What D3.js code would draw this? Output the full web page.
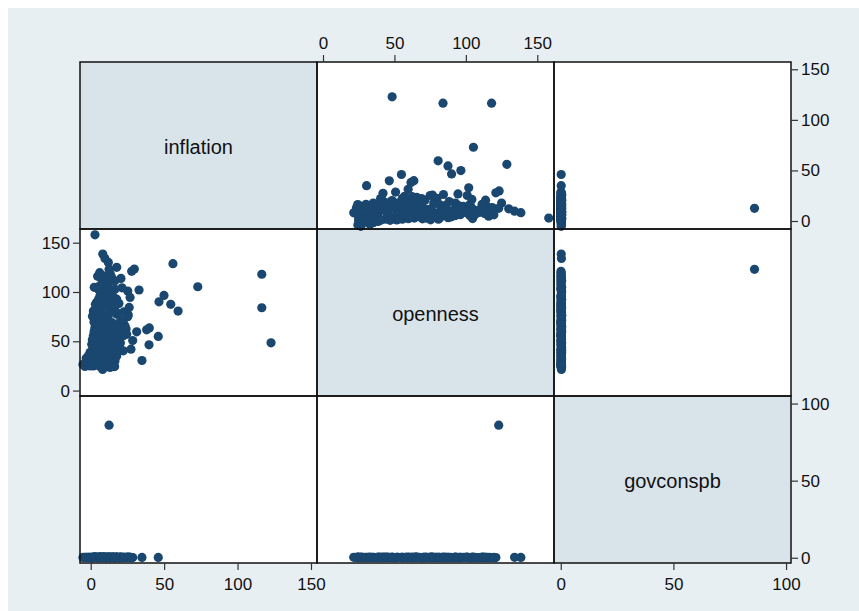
<!DOCTYPE html>
<html lang="en">
<head>
    <meta charset="UTF-8">
    <title>Scatter matrix: inflation, openness, govconspb</title>
    <script src="https://d3js.org/d3.v7.min.js"></script>
    <style>
        body { margin: 0; background: #ffffff; }
        svg { display: block; font-family: Arial, "Liberation Sans", Helvetica, sans-serif; }
        .tick text { font-size: 17px; fill: #111; }
        .tick line { stroke: #333; stroke-width: 1.2; }
        .diag-label { font-size: 20px; fill: #111; }
    </style>
</head>
<body>
    <div id="chart"></div>

    <script>
        // variable names (diagonal labels)
        var varNames = ["inflation", "openness", "govconspb"];

        // tick labels per variable
        var inflationTicks = [0, 50, 100, 150];
        var opennessTicks = [0, 50, 100, 150];
        var govconspbTicks = [0, 50, 100];

        var inflation = [
            2.9, 8.2, 9.7, 12, 17.7, 12.5, 27.9, 29.7, 20.6, 56,
            72.9, 25.2, 32.9, 26.8, 49.9, 46.5, 54.5, 59.5, 25.6, 25.2,
            31.3, 38.1, 39.9, 46, 39.7, 28.6, 27.4, 34.9, 19.9, 17.2,
            23.4, 24.5, -3.9, 0.7, 1.8, 6.3, 13.1, 15.4, 16.5, -0.5,
            1.8, 0.7, 1.8, 2.9, 2.2, 1.8, 2.9, 5.2, 6.3, 7.5,
            8.6, 14.3, 15.4, 16.5, 15.4, 9.7, 13.1, 6.3, 17.7, 22.2,
            19.9, 9.7, 6.3, 10.9, 15.4, 19.9, 8.6, 4.1, 13.1, 10.9,
            6.3, 15.4, 8.6, 13.1, 10.9, 4.1, -1.6, 5.2, 7.5, 12,
            14.3, 5.2, 12, 9.7, 4, 17.7, 19.9, 15.4, 8.6, 4.1,
            13.1, 17.7, 22.2, 4.1, 8.6, 15.4, 17.7, 13.1, 10.9, 8.6,
            16.5, 0.7, -0.5, 7.5, 17.7, 18.8, 22.2, 12, 3.4, 5.6,
            7.2, 9.1, 11.3, 13.5, 14.6, 2.4, 4.7, 6.1, 8.3, 10.2,
            12.4, 14.1, 16.2, 18.3, 20.4, 22.5, 3.2, 5.3, 7.4, 9.3,
            11.1, 13.4, 15.2, 17.4, 19.2, 1.1, 2.3, 4.2, 6.4, 8.2,
            10.3, 12.2, 14.4, 16.3, 18.1, 20.2, 0.2, -2.1, -3.1, 1.2,
            3.3, 5.1, 7.3, 9.2, 11.2, 13.3, 24.1, 26.2, 21.3, 6.2,
            8.1, 16.3, -5.3, 116.5, 116.5, 122.8
        ];
        var openness = [
            158, 138.5, 134.1, 130, 125, 123, 121, 123.3, 113.8, 128.7,
            105.3, 101, 102, 94.5, 96.5, 90, 87.5, 80.6, 76.6, 75,
            59.6, 61.6, 63.6, 54.9, 46.4, 50.8, 42, 30.5, 42, 43.6,
            65.6, 57.1, 24.4, 29.1, 25, 24.4, 23.4, 25, 30.1, 38.6,
            43.6, 47, 55.5, 63.9, 69.6, 80.8, 72.4, 102.9, 96.1, 113.1,
            109.7, 114.8, 111.5, 102.9, 94.5, 87.7, 82.6, 80.9, 79.2, 69,
            65.6, 75.8, 69, 62.3, 59, 55.5, 52.1, 48.8, 48.8, 42,
            38.6, 38.6, 33.5, 31.8, 26.7, 31.8, 35.2, 59, 79.2, 75.8,
            69, 86, 104.6, 111.4, 89.4, 77.5, 62.3, 67.4, 65.6, 62.3,
            55.5, 52.1, 55.5, 77.5, 86, 86, 92.7, 92.7, 96.1, 116.5,
            111.4, 40.3, 25, 26.7, 35.2, 42, 40.3, 38.6, 35, 45.5,
            55.8, 64.7, 73.2, 84.8, 96.3, 104.7, 115.9, 119.6, 99.8, 90.7,
            70.1, 61.2, 50.5, 46.2, 71.3, 79.8, 87.6, 92.4, 71.5, 57.7,
            33.2, 27.9, 44.8, 65.1, 88.3, 51.6, 59.8, 67.7, 84.1, 45.2,
            107.9, 112.6, 98.2, 81.6, 57.9, 48.3, 31.4, 27.6, 32.8, 75.3,
            81.9, 26.2, 36.4, 27.3, 100.4, 118.5, 62.4, 84.3, 104.2, 106.3,
            21.5, 24.3, 26.5, 118, 84, 48.4
        ];
        var govconspb = [
            null, 0.2, 0.3, null, null, 86, 0.1, null, 0.2, null,
            null, 0.4, null, 0.1, null, null, null, null, 0.3, 0.2,
            null, null, null, 0.2, null, 0.1, 0.3, 0.2, 0.1, 0.4,
            0.2, 0.1, 0.3, 0.2, 0.1, 0.4, 0.2, 0.3, 0.1, 0.2,
            0.3, 0.1, 0.2, 0.4, 0.1, 0.2, 0.3, 0.1, 0.2, 0.3,
            0.1, 0.2, 0.4, 0.1, 0.2, 0.3, 0.1, 0.2, 0.3, 0.1,
            0.2, 0.4, 0.1, 0.2, 0.3, 0.1, 0.2, 0.3, 0.1, 0.2,
            0.4, 0.1, 0.2, 0.3, 0.1, 0.2, 0.3, 0.1, 0.2, 0.4,
            0.1, 0.2, 0.3, 0.1, 0.2, 0.3, 0.1, 0.2, 0.4, 0.1,
            0.2, 0.3, 0.1, 0.2, 0.3, 0.1, 0.2, 0.4, 0.1, 0.2,
            0.3, 0.1, 0.2, 0.3, 0.1, 0.2, 0.4, 0.1, 0.2, 0.3,
            0.1, 0.2, 0.3, 0.1, 0.2, 0.4, 0.1, 0.2, 0.3, 0.1,
            0.2, 0.3, 0.1, 0.2, 0.4, 0.1, 0.2, 0.3, 0.1, 0.2,
            0.3, 0.1, 0.2, 0.3, 0.1, 0.2, 0.4, 0.1, 0.2, 0.3,
            0.1, 0.2, 0.3, 0.1, 0.2, 0.4, 0.1, 0.2, 0.3, 0.1,
            0.2, 0.3, 0.1, 0.2, 0.3, 0.1, 0.2, 0.4, 0.1, 0.2,
            0.3, 0.1, 0.2, null, null, null
        ];

        var columns = [inflation, openness, govconspb];
        var tickSets = [inflationTicks, opennessTicks, govconspbTicks];

        // axis ranges used by the plot (as horizontal / as vertical variable)
        var xDomains = [[-7.3, 154.1], [-4.2, 161.7], [-3.0, 102.2]];
        var yDomains = [[-7.9, 157.2], [-5.5, 163.9], [-3.4, 104.9]];

        var W = 859, H = 611;
        var gridLeft = 80, gridTop = 62, cellW = 237, cellH = 167;
        var n = varNames.length;

        var svg = d3.select("#chart").append("svg")
            .attr("width", W)
            .attr("height", H);

        // outer (graph region) background
        svg.append("rect")
            .attr("x", 8).attr("y", 8)
            .attr("width", W - 8).attr("height", H - 8)
            .attr("fill", "#e8eff2");

        var xScales = d3.range(n).map(function(j) {
            return d3.scaleLinear().domain(xDomains[j])
                .range([gridLeft + j * cellW, gridLeft + (j + 1) * cellW]);
        });
        var yScales = d3.range(n).map(function(i) {
            return d3.scaleLinear().domain(yDomains[i])
                .range([gridTop + (i + 1) * cellH, gridTop + i * cellH]);
        });

        // cells
        var cells = [];
        for (var i = 0; i < n; i++) {
            for (var j = 0; j < n; j++) cells.push({ row: i, col: j });
        }

        svg.selectAll(".cell-bg")
            .data(cells)
            .enter().append("rect")
            .attr("class", "cell-bg")
            .attr("x", function(d) { return gridLeft + d.col * cellW; })
            .attr("y", function(d) { return gridTop + d.row * cellH; })
            .attr("width", cellW)
            .attr("height", cellH)
            .attr("fill", function(d) { return d.row === d.col ? "#d9e4ea" : "#ffffff"; });

        // points for off-diagonal cells
        cells.filter(function(c) { return c.row !== c.col; }).forEach(function(c) {
            var xs = columns[c.col], ys = columns[c.row];
            var pts = xs.map(function(v, k) { return [v, ys[k]]; })
                .filter(function(p) { return p[0] != null && p[1] != null; });
            svg.append("g")
                .selectAll("circle")
                .data(pts)
                .enter().append("circle")
                .attr("cx", function(p) { return xScales[c.col](p[0]); })
                .attr("cy", function(p) { return yScales[c.row](p[1]); })
                .attr("r", 4.6)
                .attr("fill", "#1a476f");
        });

        // cell borders
        svg.selectAll(".cell-border")
            .data(cells)
            .enter().append("rect")
            .attr("class", "cell-border")
            .attr("x", function(d) { return gridLeft + d.col * cellW; })
            .attr("y", function(d) { return gridTop + d.row * cellH; })
            .attr("width", cellW)
            .attr("height", cellH)
            .attr("fill", "none")
            .attr("stroke", "#111")
            .attr("stroke-width", 1.5);

        // diagonal labels
        svg.selectAll(".diag-label")
            .data(varNames)
            .enter().append("text")
            .attr("class", "diag-label")
            .attr("x", function(d, k) { return gridLeft + k * cellW + cellW / 2; })
            .attr("y", function(d, k) { return gridTop + k * cellH + cellH / 2; })
            .attr("dy", "0.43em")
            .attr("text-anchor", "middle")
            .text(function(d) { return d; });

        // axes: alternate sides like Stata's graph matrix
        var xSide = ["bottom", "top", "bottom"];
        var ySide = ["right", "left", "right"];

        xSide.forEach(function(side, j) {
            var axis = side === "top" ? d3.axisTop(xScales[j]) : d3.axisBottom(xScales[j]);
            axis.tickValues(tickSets[j]).tickSize(7).tickPadding(side === "top" ? 6 : 8);
            var g = svg.append("g")
                .attr("transform", "translate(0," + (side === "top" ? gridTop : gridTop + n * cellH) + ")")
                .call(axis);
            g.select(".domain").remove();
        });

        ySide.forEach(function(side, i) {
            var axis = side === "left" ? d3.axisLeft(yScales[i]) : d3.axisRight(yScales[i]);
            axis.tickValues(tickSets[i]).tickSize(7).tickPadding(3);
            var g = svg.append("g")
                .attr("transform", "translate(" + (side === "left" ? gridLeft : gridLeft + n * cellW) + ",0)")
                .call(axis);
            g.select(".domain").remove();
        });

        svg.selectAll(".tick text").attr("font-family", null).attr("font-size", null).attr("fill", null);
    </script>
</body>
</html>
